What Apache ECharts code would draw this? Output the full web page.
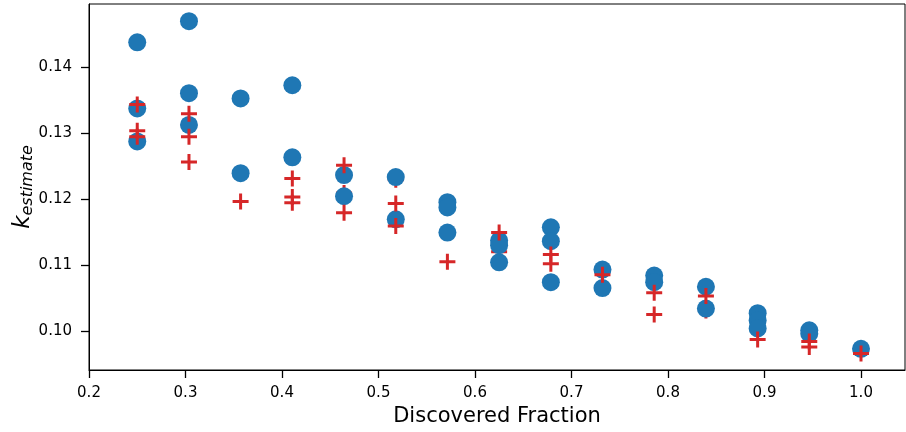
<!DOCTYPE html>
<html><head><meta charset="utf-8">
<script src="https://cdn.jsdelivr.net/npm/echarts@6/dist/echarts.min.js"></script>
<style>html,body{margin:0;padding:0;background:#fff}#c{width:906px;height:432px}</style>
</head><body><div id="c"></div>
<script>
const xTicks = [0.2,0.3,0.4,0.5,0.6,0.7,0.8,0.9,1.0];
const yTicks = [0.10,0.11,0.12,0.13,0.14];

const blueFrac = [0.25,0.25,0.25, 0.3036,0.3036,0.3036, 0.3571,0.3571, 0.4107,0.4107, 0.4643,0.4643, 0.5179,0.5179,
  0.5714,0.5714,0.5714, 0.625,0.625,0.625, 0.6786,0.6786,0.6786, 0.7321,0.7321, 0.7857,0.7857, 0.8393,0.8393,
  0.8929,0.8929,0.8929, 0.9464,0.9464, 1.0];
const blueK = [0.1437,0.1337,0.1287, 0.1469,0.1360,0.1312, 0.1352,0.1239, 0.1372,0.1263, 0.1236,0.1204, 0.1233,0.1169,
  0.1195,0.1187,0.1149, 0.1137,0.1130,0.1104, 0.1157,0.1136,0.1074, 0.1093,0.1065, 0.1084,0.1074, 0.1067,0.1034,
  0.1027,0.1016,0.1004, 0.1001,0.0996, 0.0973];

const redFrac = [0.25,0.25,0.25, 0.3036,0.3036,0.3036, 0.3571, 0.4107,0.4107,0.4107, 0.4643,0.4643, 0.5179,0.5179,
  0.5714, 0.625, 0.6786,0.6786, 0.7321, 0.7857,0.7857, 0.8393, 0.8929, 0.9464,0.9464, 1.0];
const redK = [0.1343,0.1303,0.1294, 0.1329,0.1294,0.1256, 0.1196, 0.1231,0.1203,0.1194, 0.1251,0.1179, 0.1193,0.1159,
  0.1105, 0.1149, 0.1116,0.1102, 0.1085, 0.1058,0.1025, 0.1053, 0.0987, 0.0984,0.0976, 0.0966];

const redUnderFrac = [0.4643, 0.5179, 0.5714, 0.625, 0.8393];
const redUnderK = [0.1209, 0.1229, 0.1193, 0.1120, 0.1031];

const zip = (a,b) => a.map((v,i)=>[v,b[i]]);
const plus = 'path://M6.5,0H9.5V6.5H16V9.5H9.5V16H6.5V9.5H0V6.5H6.5Z';
const FONT = 'DejaVu Sans';

const chart = echarts.init(document.getElementById('c'), null, {renderer:'canvas'});
chart.setOption({
  animation:false,
  backgroundColor:'#fff',
  grid:{left:89,right:1,top:4,bottom:62,containLabel:false,outerBoundsMode:'none',show:true,borderColor:'#000',borderWidth:1,backgroundColor:'transparent'},
  xAxis:{
    type:'value', min:0.2, max:1.0456,
    name:'Discovered Fraction', nameLocation:'middle', nameGap:34,
    nameTextStyle:{fontFamily:FONT,fontSize:21,color:'#000'},
    axisLine:{show:true,onZero:false,lineStyle:{color:'#000',width:1}},
    axisTick:{show:true,inside:false,length:8,lineStyle:{color:'#000',width:1.3},customValues:xTicks},
    axisLabel:{fontFamily:FONT,fontSize:15,color:'#000',margin:16,customValues:xTicks,formatter:v=>v.toFixed(1)},
    splitLine:{show:false}
  },
  yAxis:{
    type:'value', min:0.0941, max:0.1495,
    name:'{k|k}{s|estimate}', nameLocation:'middle', nameGap:53, nameRotate:90,
    nameMoveOverlap:false,
    nameTextStyle:{rich:{
      k:{fontFamily:FONT,fontStyle:'italic',fontSize:23,color:'#000'},
      s:{fontFamily:FONT,fontStyle:'italic',fontSize:16,color:'#000',padding:[9,0,0,0]}
    }},
    axisLine:{show:true,onZero:false,lineStyle:{color:'#000',width:1}},
    axisTick:{show:true,inside:false,length:8,lineStyle:{color:'#000',width:1.3},customValues:yTicks},
    axisLabel:{fontFamily:FONT,fontSize:15,color:'#000',margin:17,customValues:yTicks,formatter:v=>v.toFixed(2)},
    splitLine:{show:false}
  },
  series:[
    {type:'scatter',name:'under',data:zip(redUnderFrac,redUnderK),symbol:plus,symbolSize:16,
      itemStyle:{color:'#d62728',opacity:1},z:2},
    {type:'scatter',name:'blue',data:zip(blueFrac,blueK),symbol:'circle',symbolSize:18,
      itemStyle:{color:'#1f77b4',opacity:1},z:3},
    {type:'scatter',name:'red',data:zip(redFrac,redK),symbol:plus,symbolSize:16,
      itemStyle:{color:'#d62728',opacity:1},z:4}
  ]
});
</script></body></html>
